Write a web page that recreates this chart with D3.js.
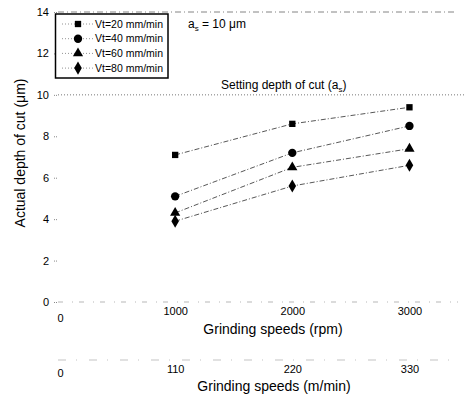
<!DOCTYPE html>
<html>
<head>
<meta charset="utf-8">
<script src="https://cdn.jsdelivr.net/npm/d3@7"></script>
<style>
  body { margin: 0; background: #fff; }
  svg { display: block; font-family: "Liberation Sans", Arial, sans-serif; }
</style>
</head>
<body>
<div id="chart"></div>
<script>
// grinding speeds (rpm) and matching surface speeds (m/min)
const speedsRpm = [1000, 2000, 3000];
const xTicksRpm = [0, 1000, 2000, 3000];
const xTicksMmin = [0, 110, 220, 330];
const yTicks = [0, 2, 4, 6, 8, 10, 12, 14];

const seriesNames = ['Vt=20 mm/min', 'Vt=40 mm/min', 'Vt=60 mm/min', 'Vt=80 mm/min'];
const vt20 = [7.1, 8.6, 9.4];
const vt40 = [5.1, 7.2, 8.5];
const vt60 = [4.3, 6.5, 7.4];
const vt80 = [3.9, 5.6, 6.6];
const settingDepth = 10;

const width = 466;
const height = 402;

const svg = d3.select('#chart')
    .append('svg')
    .attr('width', width)
    .attr('height', height);

const x = d3.scaleLinear().domain([0, 3440]).range([58, 461]);
const y = d3.scaleLinear().domain([0, 14]).range([302, 12]);
const xm = d3.scaleLinear().domain([0, 330]).range([x(0), x(3000)]);

const symbols = [d3.symbolSquare, d3.symbolCircle, d3.symbolTriangle, d3.symbolDiamond];
const symbolSizes = [40, 55, 45, 50];

const series = [vt20, vt40, vt60, vt80].map((vals, i) => ({
    name: seriesNames[i],
    symbol: symbols[i],
    size: symbolSizes[i],
    values: vals.map((v, j) => ({ x: speedsRpm[j], y: v }))
}));

// frame lines: top, setting depth, bottom axis
svg.append('line')
    .attr('x1', x(0)).attr('x2', 457)
    .attr('y1', y(14)).attr('y2', y(14))
    .attr('stroke', '#666').attr('stroke-width', 0.8)
    .attr('stroke-dasharray', '6,3,1,3');

svg.append('line')
    .attr('x1', x(0)).attr('x2', 466)
    .attr('y1', y(settingDepth)).attr('y2', y(settingDepth))
    .attr('stroke', '#555').attr('stroke-width', 0.8)
    .attr('stroke-dasharray', '1,2');

svg.append('line')
    .attr('x1', x(0)).attr('x2', 458)
    .attr('y1', y(0)).attr('y2', y(0))
    .attr('stroke', '#999').attr('stroke-width', 0.7)
    .attr('stroke-dasharray', '5,9,1,6');

// y axis
const yAxis = svg.append('g')
    .attr('transform', `translate(${x(0) - 1}, 0)`)
    .call(d3.axisLeft(y).tickValues(yTicks).tickSize(3).tickPadding(5));
yAxis.select('.domain').remove();
yAxis.selectAll('.tick line').attr('stroke', '#888').attr('stroke-dasharray', '1,1');
yAxis.selectAll('text').attr('font-size', 11).attr('fill', '#000')
    .attr('font-family', '"Liberation Sans", Arial, sans-serif');

svg.append('text')
    .attr('transform', 'translate(25, 153) rotate(-90)')
    .attr('text-anchor', 'middle')
    .attr('font-size', 14)
    .text('Actual depth of cut (μm)');

// x axis (rpm)
const xAxis = svg.append('g')
    .attr('transform', `translate(0, ${y(0)})`)
    .call(d3.axisBottom(x).tickValues(xTicksRpm).tickSize(0).tickPadding(5).tickFormat(d3.format('d')));
xAxis.select('.domain').remove();
xAxis.selectAll('text').attr('font-size', 11).attr('fill', '#000')
    .attr('font-family', '"Liberation Sans", Arial, sans-serif');
xAxis.selectAll('.tick').filter(d => d === 0).select('text').attr('dy', '1.4em').attr('dx', 2);

svg.append('text')
    .attr('x', 273).attr('y', 334)
    .attr('text-anchor', 'middle')
    .attr('font-size', 14)
    .text('Grinding speeds (rpm)');

// second x axis (m/min)
svg.append('line')
    .attr('x1', x(0)).attr('x2', 458)
    .attr('y1', 360).attr('y2', 360)
    .attr('stroke', '#aaa').attr('stroke-width', 0.7)
    .attr('stroke-dasharray', '8,10,1,12');

const xAxis2 = svg.append('g')
    .attr('transform', 'translate(0, 360)')
    .call(d3.axisBottom(xm).tickValues(xTicksMmin).tickSize(0).tickPadding(5));
xAxis2.select('.domain').remove();
xAxis2.selectAll('text').attr('font-size', 11).attr('fill', '#000')
    .attr('font-family', '"Liberation Sans", Arial, sans-serif');
xAxis2.selectAll('.tick').filter(d => d === 0).select('text').attr('dy', '1.05em').attr('dx', 2);

svg.append('text')
    .attr('x', 274).attr('y', 391)
    .attr('text-anchor', 'middle')
    .attr('font-size', 14)
    .text('Grinding speeds (m/min)');

// series lines and markers
const line = d3.line().x(d => x(d.x)).y(d => y(d.y));

svg.append('g').selectAll('path')
    .data(series)
    .join('path')
    .attr('d', d => line(d.values))
    .attr('fill', 'none')
    .attr('stroke', '#444')
    .attr('stroke-width', 0.9)
    .attr('stroke-dasharray', '5,2,1,2');

series.forEach(s => {
    svg.append('g').selectAll('path')
        .data(s.values)
        .join('path')
        .attr('transform', d => `translate(${x(d.x)}, ${y(d.y)})`)
        .attr('d', d3.symbol().type(s.symbol).size(s.size))
        .attr('fill', '#000');
});

// annotations
const as = svg.append('text').attr('x', 188).attr('y', 28).attr('font-size', 12);
as.append('tspan').text('a');
as.append('tspan').attr('font-size', 8).attr('dy', 3).text('s');
as.append('tspan').attr('dy', -3).text(' = 10 μm');

const sd = svg.append('text').attr('x', 221).attr('y', 89).attr('font-size', 12);
sd.append('tspan').text('Setting depth of cut (a');
sd.append('tspan').attr('font-size', 8).attr('dy', 3).text('s');
sd.append('tspan').attr('dy', -3).text(')');

// legend
const legend = svg.append('g');
legend.append('rect')
    .attr('x', 55.5).attr('y', 14)
    .attr('width', 112.5).attr('height', 64)
    .attr('fill', '#fff')
    .attr('stroke', '#000')
    .attr('stroke-width', 1.5);

const rows = legend.selectAll('g.row')
    .data(series)
    .join('g')
    .attr('class', 'row')
    .attr('transform', (d, i) => `translate(0, ${24 + i * 14.7})`);

rows.append('line')
    .attr('x1', 62).attr('x2', 94)
    .attr('stroke', '#777').attr('stroke-width', 0.8)
    .attr('stroke-dasharray', '1,2');
rows.append('path')
    .attr('transform', 'translate(78, 0)')
    .attr('d', d => d3.symbol().type(d.symbol).size(d.size)())
    .attr('fill', '#000');
rows.append('text')
    .attr('x', 95).attr('dy', '0.35em')
    .attr('font-size', 10.5)
    .text(d => d.name);
</script>
</body>
</html>
